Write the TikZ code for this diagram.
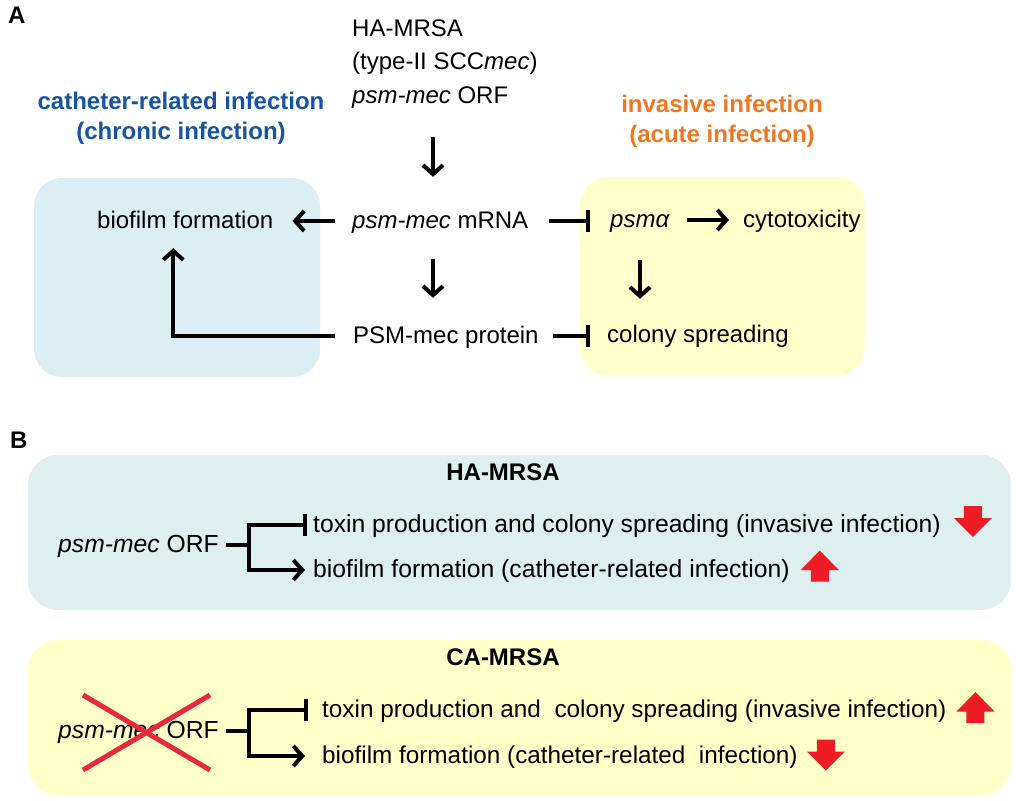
\documentclass[tikz,border=0pt]{standalone}
\usepackage{fontspec}
\setmainfont{Liberation Sans}
\usetikzlibrary{arrows.meta}

\definecolor{chronicblue}{RGB}{22,84,160}
\definecolor{acuteorange}{RGB}{242,118,30}
\definecolor{boxblue}{RGB}{218,238,243}
\definecolor{boxyellow}{RGB}{255,255,204}
\definecolor{hablue}{RGB}{221,239,239}
\definecolor{cayellow}{RGB}{255,255,200}
\definecolor{arrowred}{RGB}{238,28,37}
\definecolor{crossred}{RGB}{232,40,60}

\tikzset{
  txt/.style={anchor=base west, inner sep=0pt, text height=17pt, text depth=3pt,
    font=\fontsize{24}{29}\selectfont},
  btxt/.style={txt, font=\fontsize{24.7}{29}\selectfont},
  ctxt/.style={txt, font=\fontsize{24.3}{29}\selectfont},
  title/.style={anchor=base, inner sep=0pt, align=center,
    font=\fontsize{24}{29.5}\selectfont\bfseries},
  panel/.style={anchor=base west, inner sep=0pt, font=\fontsize{24}{29}\selectfont\bfseries},
  line/.style={line width=4pt},
  arr/.style={line width=4pt, -{Straight Barb[length=9pt,width=20pt]}},
  tbar/.style={line width=4pt, -{Bar[width=22pt]}},
  cross/.style={crossred, line width=5pt},
  pics/reddown/.style={code={\fill[arrowred] (-9,-15.5) -- (9,-15.5) -- (9,-3.5) -- (19,-3.5)
    -- (0,15.5) -- (-19,-3.5) -- (-9,-3.5) -- cycle;}},
  pics/redup/.style={code={\fill[arrowred] (-9,15.5) -- (9,15.5) -- (9,4) -- (19,4)
    -- (0,-15.5) -- (-19,4) -- (-9,4) -- cycle;}}
}

\begin{document}
\begin{tikzpicture}[x=1pt,y=-1pt]
\useasboundingbox (0,0) rectangle (1016,800);
% Draw the boxes
        \fill[boxblue, rounded corners=28pt] (34,178) rectangle (320,377);
        \fill[boxyellow, rounded corners=28pt] (580,177) rectangle (865,376);
        \fill[hablue, rounded corners=30pt] (28,455) rectangle (1011,610);
        \fill[cayellow, rounded corners=30pt] (28,640) rectangle (1011,795);
% Panel A
        \node[panel] (labela) at (8,24) {A};
        \node[txt] (hamrsa) at (352,37) {HA-MRSA};
        \node[txt] (scc) at (352,70) {(type-II SCC\textit{mec})};
        \node[txt] (orf) at (352,103) {\textit{psm-mec} ORF};
        \node[title, text=chronicblue] (chronic) at (181,139) {catheter-related infection\\(chronic infection)};
        \node[title, text=acuteorange] (acute) at (722,142) {invasive infection\\(acute infection)};
        \node[txt] (biofilm) at (97,228) {biofilm formation};
        \node[txt] (mrna) at (352,228) {\textit{psm-mec} mRNA};
        \node[txt] (psma) at (610,227) {\textit{psmα}};
        \node[txt] (cyto) at (743,227) {cytotoxicity};
        \node[txt] (protein) at (353,343) {PSM-mec protein};
        \node[txt] (colony) at (607,342) {colony spreading};
        \coordinate (axis) at (433,0);
        \draw[arr, shorten <=31pt, shorten >=34pt] (orf.south -| axis) -- (mrna.north -| axis);
        \draw[arr, shorten <=28pt, shorten >=28pt] (mrna.south -| axis) -- (protein.north -| axis);
        \draw[arr, shorten <=17pt, shorten >=19pt] (mrna.west) -- (mrna.west -| biofilm.east);
        \draw[tbar, shorten <=21pt, shorten >=20pt] (mrna.east) -- (mrna.east -| psma.west);
        \draw[arr, shorten <=17pt, shorten >=14pt] (psma.east) -- (psma.east -| cyto.west);
        \draw[arr, shorten <=30pt, shorten >=26pt] (psma.south) -- (psma.south |- colony.north);
        \draw[tbar, shorten <=14pt, shorten >=17pt] (protein.east) -- (protein.east -| colony.west);
        \draw[arr, shorten <=18pt, shorten >=17pt] (protein.west) -| ([xshift=-12pt]biofilm.south);
% Panel B, HA-MRSA
        \node[panel] (labelb) at (10,448) {B};
        \node[title] (ha) at (503,480) {HA-MRSA};
        \node[btxt] (orfha) at (58,552) {\textit{psm-mec} ORF};
        \coordinate (forkha) at (249,0 |- orfha.east);
        \node[btxt] (toxha) at (313,532) {toxin production and colony spreading (invasive infection)};
        \node[btxt] (bioha) at (313,577) {biofilm formation (catheter-related infection)};
        \draw[line, shorten <=7pt] (orfha.east) -- (forkha);
        \draw[tbar, shorten >=6pt] (forkha) |- (toxha.west);
        \draw[arr, shorten >=8pt] (forkha) |- (bioha.west);
        \pic at ([xshift=32pt,yshift=3.5pt]toxha.east) {reddown};
        \pic at ([xshift=30pt,yshift=4pt]bioha.east) {redup};
% Panel B, CA-MRSA
        \node[title] (ca) at (503,665) {CA-MRSA};
        \node[btxt] (orfca) at (58,738) {\textit{psm-mec} ORF};
        \coordinate (forkca) at (249,0 |- orfca.east);
        \node[ctxt] (toxca) at (322,717) {toxin production and\ \ colony spreading (invasive infection)};
        \node[ctxt] (bioca) at (322,763) {biofilm formation (catheter-related\ \ infection)};
        \draw[line, shorten <=7pt] (orfca.east) -- (forkca);
        \draw[tbar, shorten >=14pt] (forkca) |- (toxca.west);
        \draw[arr, shorten >=17pt] (forkca) |- (bioca.west);
        \pic at ([xshift=29pt,yshift=2.5pt]toxca.east) {redup};
        \pic at ([xshift=28pt,yshift=1pt]bioca.east) {reddown};
        \draw[cross] (83,695) -- (210,770);
        \draw[cross] (83,770) -- (210,695);
\end{tikzpicture}
\end{document}
